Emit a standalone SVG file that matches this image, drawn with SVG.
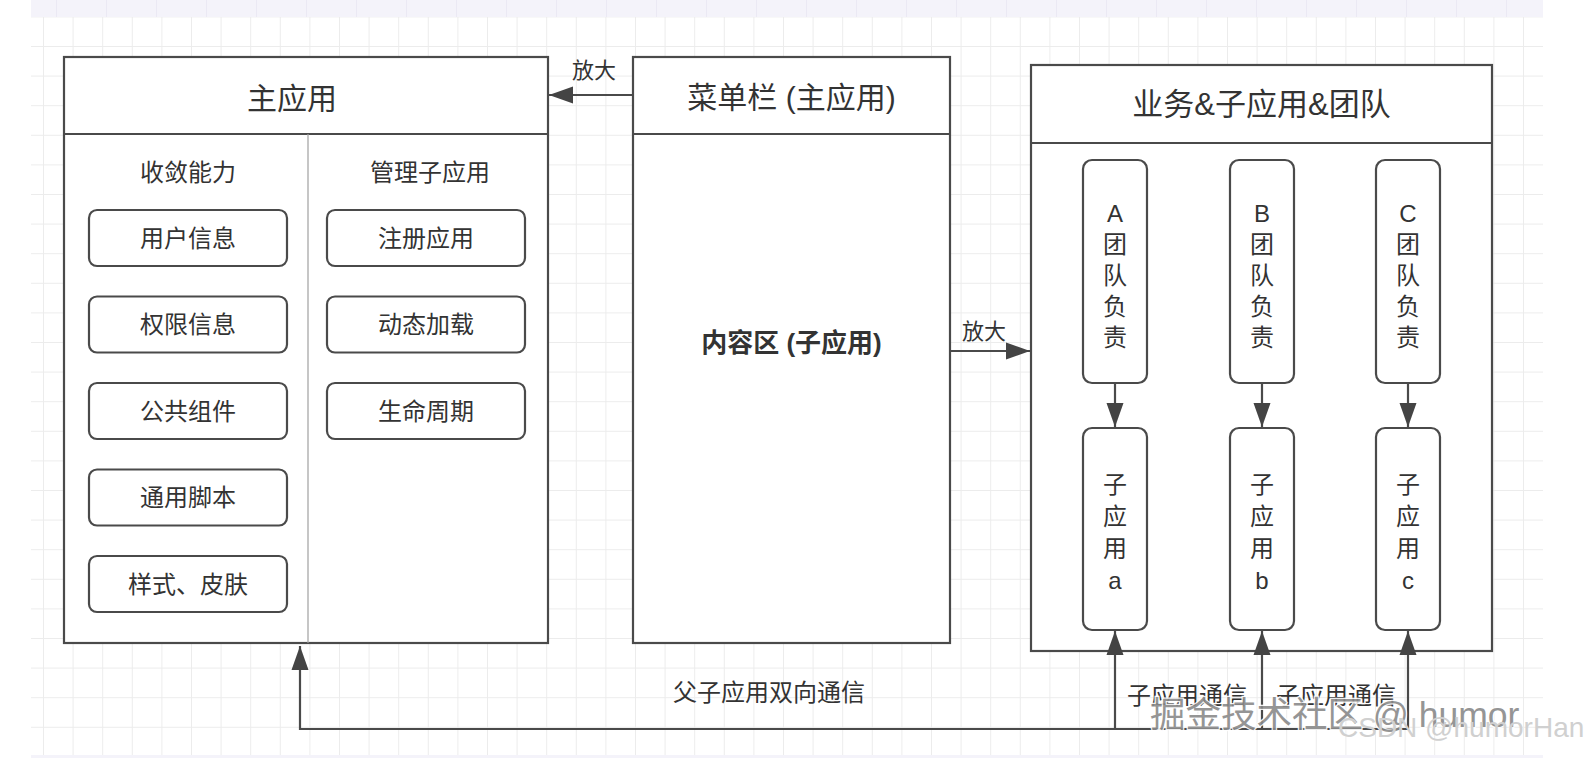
<svg xmlns="http://www.w3.org/2000/svg" width="1592" height="758" viewBox="0 0 1592 758">
<defs>
<pattern id="grid" x="13.4" y="16.4" width="29.6" height="29.6" patternUnits="userSpaceOnUse">
<path d="M0 0.5H29.6M0.5 0V29.6" stroke="#ececec" stroke-width="1" fill="none"/>
</pattern>
<pattern id="ruler" x="6" y="0" width="50" height="17" patternUnits="userSpaceOnUse">
<path d="M0.5 0V17" stroke="#ebe9f4" stroke-width="1"/>
</pattern>
<marker id="arr" markerUnits="userSpaceOnUse" markerWidth="24" markerHeight="18" refX="24" refY="9" orient="auto">
<path d="M0 0.5L24 9L0 17.5z" fill="#444"/>
</marker>
</defs>
<style>
.box{fill:#fff;stroke:#4a4a4a;stroke-width:2.2}
.ln{stroke:#4a4a4a;stroke-width:2.2;fill:none}
.rb{fill:#fff;stroke:#4a4a4a;stroke-width:2.2}
.t{font-family:"Liberation Sans","Noto Sans CJK SC",sans-serif;fill:#333;text-anchor:middle;dominant-baseline:central}
.title{font-size:30px}
.lbl{font-size:24px}
.conn{stroke:#4a4a4a;stroke-width:2.2;fill:none}
</style>
<rect x="0" y="0" width="1592" height="758" fill="#fff"/>
<rect x="31" y="17" width="1512" height="738" fill="url(#grid)"/>
<rect x="31" y="0" width="1512" height="17" fill="#f4f3fa"/>
<rect x="31" y="0" width="1512" height="17" fill="url(#ruler)"/>
<rect x="31" y="755" width="1512" height="3" fill="#f4f3fa"/>

<g id="main-app">
<rect class="box" x="64" y="57" width="484" height="586"/>
<line class="ln" x1="64" y1="134" x2="548" y2="134"/>
<line x1="308" y1="134" x2="308" y2="643" stroke="#a0a0a0" stroke-width="1.2"/>
<text class="t title" x="292" y="98">主应用</text>
<text class="t lbl" x="188" y="172">收敛能力</text>
<text class="t lbl" x="430" y="172">管理子应用</text>
</g>
<g id="n-user"><rect class="rb" x="89" y="210" width="198" height="56" rx="8"/><text class="t lbl" x="188" y="238">用户信息</text></g>
<g id="n-perm"><rect class="rb" x="89" y="296.5" width="198" height="56" rx="8"/><text class="t lbl" x="188" y="324.5">权限信息</text></g>
<g id="n-comp"><rect class="rb" x="89" y="383" width="198" height="56" rx="8"/><text class="t lbl" x="188" y="411">公共组件</text></g>
<g id="n-script"><rect class="rb" x="89" y="469.5" width="198" height="56" rx="8"/><text class="t lbl" x="188" y="497.5">通用脚本</text></g>
<g id="n-style"><rect class="rb" x="89" y="556" width="198" height="56" rx="8"/><text class="t lbl" x="188" y="584">样式、皮肤</text></g>
<g id="n-reg"><rect class="rb" x="327" y="210" width="198" height="56" rx="8"/><text class="t lbl" x="426" y="238">注册应用</text></g>
<g id="n-load"><rect class="rb" x="327" y="296.5" width="198" height="56" rx="8"/><text class="t lbl" x="426" y="324.5">动态加载</text></g>
<g id="n-life"><rect class="rb" x="327" y="383" width="198" height="56" rx="8"/><text class="t lbl" x="426" y="411">生命周期</text></g>

<g id="menu">
<rect class="box" x="633" y="57" width="317" height="586"/>
<line class="ln" x1="633" y1="134" x2="950" y2="134"/>
<text class="t title" x="791.5" y="97">菜单栏 (主应用)</text>
<text class="t" x="791.5" y="343" style="font-size:26px;font-weight:bold">内容区 (子应用)</text>
</g>

<g id="biz">
<rect class="box" x="1031" y="65" width="461" height="586"/>
<line class="ln" x1="1031" y1="143" x2="1492" y2="143"/>
<text class="t" x="1261.5" y="104" style="font-size:31px">业务&amp;子应用&amp;团队</text>
</g>

<g id="team-a"><rect class="rb" x="1083" y="160" width="64" height="223" rx="9"/>
<text class="t lbl"><tspan x="1115" y="213">A</tspan><tspan x="1115" y="244">团</tspan><tspan x="1115" y="275">队</tspan><tspan x="1115" y="306">负</tspan><tspan x="1115" y="337">责</tspan></text></g>
<g id="team-b"><rect class="rb" x="1230" y="160" width="64" height="223" rx="9"/>
<text class="t lbl"><tspan x="1262" y="213">B</tspan><tspan x="1262" y="244">团</tspan><tspan x="1262" y="275">队</tspan><tspan x="1262" y="306">负</tspan><tspan x="1262" y="337">责</tspan></text></g>
<g id="team-c"><rect class="rb" x="1376" y="160" width="64" height="223" rx="9"/>
<text class="t lbl"><tspan x="1408" y="213">C</tspan><tspan x="1408" y="244">团</tspan><tspan x="1408" y="275">队</tspan><tspan x="1408" y="306">负</tspan><tspan x="1408" y="337">责</tspan></text></g>

<g id="sub-a"><rect class="rb" x="1083" y="428" width="64" height="202" rx="9"/>
<text class="t lbl"><tspan x="1115" y="484">子</tspan><tspan x="1115" y="516">应</tspan><tspan x="1115" y="548">用</tspan><tspan x="1115" y="580">a</tspan></text></g>
<g id="sub-b"><rect class="rb" x="1230" y="428" width="64" height="202" rx="9"/>
<text class="t lbl"><tspan x="1262" y="484">子</tspan><tspan x="1262" y="516">应</tspan><tspan x="1262" y="548">用</tspan><tspan x="1262" y="580">b</tspan></text></g>
<g id="sub-c"><rect class="rb" x="1376" y="428" width="64" height="202" rx="9"/>
<text class="t lbl"><tspan x="1408" y="484">子</tspan><tspan x="1408" y="516">应</tspan><tspan x="1408" y="548">用</tspan><tspan x="1408" y="580">c</tspan></text></g>

<g id="connectors">
<path class="conn" d="M633 95H549" marker-end="url(#arr)"/>
<path class="conn" d="M950 351H1030" marker-end="url(#arr)"/>
<path class="conn" d="M1115 383V427" marker-end="url(#arr)"/>
<path class="conn" d="M1262 383V427" marker-end="url(#arr)"/>
<path class="conn" d="M1408 383V427" marker-end="url(#arr)"/>
<path class="conn" d="M1408 729H300V646" marker-end="url(#arr)"/>
<path class="conn" d="M1115 729V631" marker-end="url(#arr)"/>
<path class="conn" d="M1262 729V631" marker-end="url(#arr)"/>
<path class="conn" d="M1408 729V631" marker-end="url(#arr)"/>
<text class="t" x="594" y="70" style="font-size:22px">放大</text>
<text class="t" x="984" y="331" style="font-size:22px">放大</text>
<text class="t lbl" x="769" y="692">父子应用双向通信</text>
<text class="t lbl" x="1187" y="695">子应用通信</text>
<text class="t lbl" x="1336" y="695">子应用通信</text>
</g>

<g id="watermark">
<text x="1150" y="727" style="font-family:'Liberation Sans','Noto Sans CJK SC',sans-serif;font-size:35.5px;fill:#8a8a8a;stroke:#fff;stroke-width:2.5;paint-order:stroke" opacity="0.9">掘金技术社区 @ humor</text>
<text x="1338" y="737" style="font-family:'Liberation Sans','Noto Sans CJK SC',sans-serif;font-size:28px;fill:#d0d0d0">CSDN @humorHan</text>
</g>
</svg>
